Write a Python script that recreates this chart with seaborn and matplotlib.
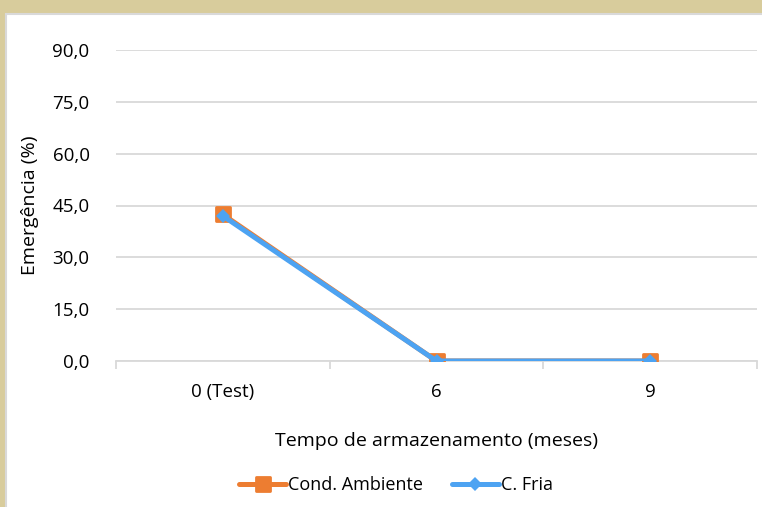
import matplotlib
matplotlib.use("Agg")
import matplotlib.pyplot as plt
import matplotlib.patches as mpatches
from matplotlib.lines import Line2D
from matplotlib.markers import MarkerStyle
import pandas as pd
import seaborn as sns

# data
tempo = ["0 (Test)", "6", "9"]
cond_ambiente = [42.4, 0.0, 0.0]
c_fria = [42.0, 0.0, 0.0]
y_ticks = [0, 15, 30, 45, 60, 75, 90]

ORANGE = "#ED7D31"
BLUE = "#4DA3F2"
BEIGE = "#D8CC9C"

sns.set_theme(style="white")
plt.rcParams["font.family"] = ["Open Sans", "DejaVu Sans"]

fig = plt.figure(figsize=(7.62, 5.07), dpi=100, facecolor=BEIGE)
# white card with a thin grey border, beige frame at left and top
fig.patches.append(mpatches.Rectangle((6 / 762, -0.01), 1, 1.01 - 14 / 507,
                                      transform=fig.transFigure, facecolor="white",
                                      edgecolor="#D9D9D9", linewidth=1.5, zorder=-10))

ax = fig.add_axes([116 / 762, 1 - 361 / 507, 641 / 762, 311 / 507])
ax.set_facecolor("none")

square = MarkerStyle("s", joinstyle="round")
diamond = MarkerStyle("D", joinstyle="round")

df_amb = pd.DataFrame({"Tempo": tempo, "Emergencia": cond_ambiente})
df_fria = pd.DataFrame({"Tempo": tempo, "Emergencia": c_fria})

sns.lineplot(data=df_amb, x="Tempo", y="Emergencia", ax=ax, color=ORANGE,
             linewidth=3.6, marker=square, markersize=9.5, markeredgewidth=2,
             markeredgecolor=ORANGE, sort=False, zorder=3)
sns.lineplot(data=df_fria, x="Tempo", y="Emergencia", ax=ax, color=BLUE,
             linewidth=3.6, marker=diamond, markersize=7, markeredgewidth=0,
             sort=False, zorder=4)

ax.set_xlim(-0.5, 2.5)
ax.set_ylim(0, 90)
ax.set_yticks(y_ticks)
ax.set_yticklabels([f"{v:.1f}".replace(".", ",") for v in y_ticks])
ax.yaxis.grid(True, color="#D9D9D9", linewidth=1.3)
ax.set_axisbelow(True)
for s in ["top", "right", "left"]:
    ax.spines[s].set_visible(False)
ax.spines["bottom"].set_color("#D9D9D9")
ax.spines["bottom"].set_linewidth(1.3)

ax.set_xticks([-0.5, 0.5, 1.5, 2.5], minor=True)
ax.tick_params(axis="x", which="minor", length=6, width=1.3, color="#D9D9D9",
               direction="out", bottom=True)
ax.tick_params(axis="x", which="major", length=0, pad=16, labelsize=13.5, labelcolor="#000000")
ax.tick_params(axis="y", length=0, pad=19, labelsize=13.5, labelcolor="#000000")

ax.set_xlabel("Tempo de armazenamento (meses)", fontsize=14, color="#000000", labelpad=22)
ax.set_ylabel("Emergência (%)", fontsize=14, color="#000000", labelpad=10)

handles = [
    Line2D([], [], color=ORANGE, linewidth=3.6, marker=square, markersize=9.5,
           markeredgewidth=2, markeredgecolor=ORANGE),
    Line2D([], [], color=BLUE, linewidth=3.6, marker=diamond, markersize=7, markeredgewidth=0),
]
fig.legend(handles, ["Cond. Ambiente", "C. Fria"], loc="center",
           bbox_to_anchor=(396 / 762, 1 - 485 / 507), ncol=2, frameon=False,
           fontsize=13, labelcolor="#000000", handlelength=2.6, handletextpad=0.1,
           columnspacing=1.6)

fig.savefig("out.png", dpi=100, facecolor=fig.get_facecolor())
